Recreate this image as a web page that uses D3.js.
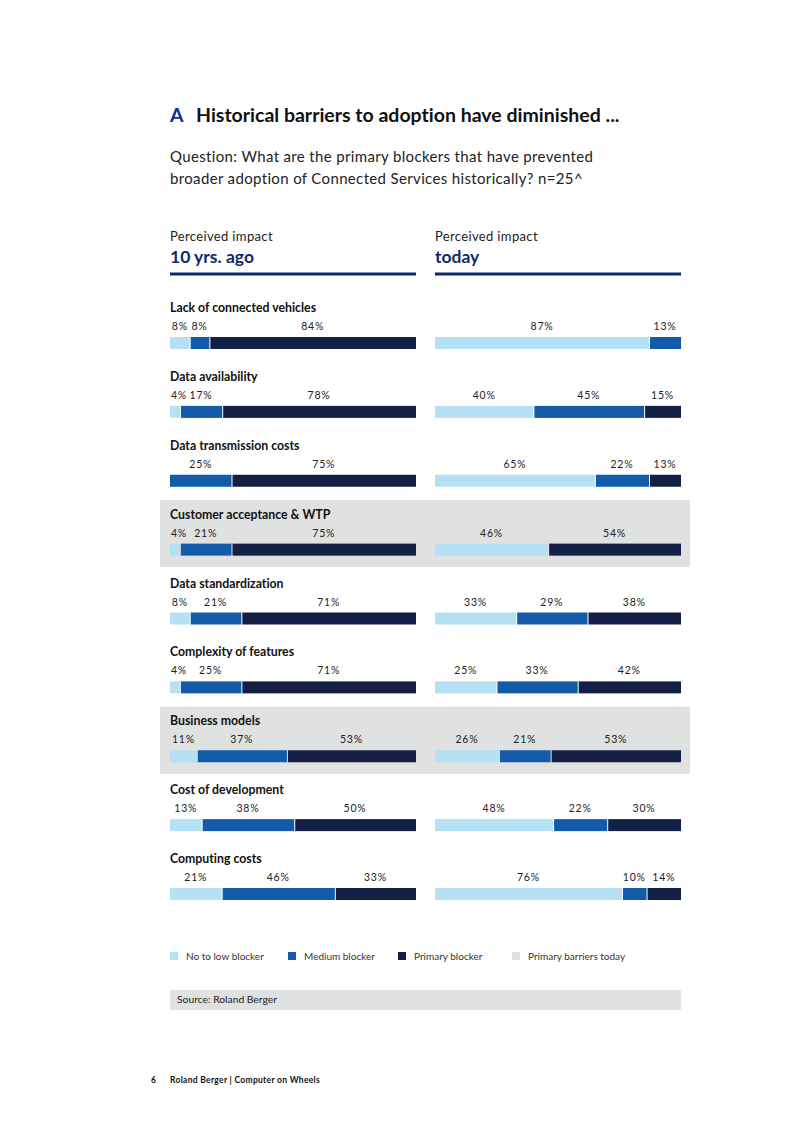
<!DOCTYPE html>
<html><head><meta charset="utf-8">
<script src="https://cdn.jsdelivr.net/npm/d3@7"></script>
<style>body{margin:0;background:#fff}svg{display:block}text{font-family:Lato,"Noto Sans",sans-serif;font-variant-ligatures:none;font-feature-settings:"liga" 0}</style>
</head><body><div id="chart"></div>
<script>
const categories = ["Lack of connected vehicles","Data availability","Data transmission costs","Customer acceptance & WTP","Data standardization","Complexity of features","Business models","Cost of development","Computing costs"];
const highlighted = ["Customer acceptance & WTP","Business models"];
const pastLow    = [8, 4, 0, 4, 8, 4, 11, 13, 21];
const pastMedium = [8, 17, 25, 21, 21, 25, 37, 38, 46];
const pastHigh   = [84, 78, 75, 75, 71, 71, 53, 50, 33];
const todayLow    = [87, 40, 65, 46, 33, 25, 26, 48, 76];
const todayMedium = [13, 45, 22, 0, 29, 33, 21, 22, 10];
const todayHigh   = [0, 15, 13, 54, 38, 42, 53, 30, 14];
const seriesNames = ["No to low blocker","Medium blocker","Primary blocker"];
const legendNames = ["No to low blocker","Medium blocker","Primary blocker","Primary barriers today"];
const colors = ["#b6e1f4","#135ba8","#131f45"];
const bandColor = "#e0e1e1";
const navy = "#0b2a6e";

const W=794,H=1123;
const svg=d3.select("#chart").append("svg").attr("width",W).attr("height",H);

// Title
const t=svg.append("text").attr("x",170).attr("y",122).attr("font-size",19.5).attr("font-weight",700);
t.append("tspan").attr("fill","#0c2d8a").text("A");
t.append("tspan").attr("x",196).attr("fill","#111").text("Historical barriers to adoption have diminished ...");
svg.append("text").attr("x",170).attr("y",162).attr("font-size",15).attr("letter-spacing",0.35).attr("fill","#222").text("Question: What are the primary blockers that have prevented");
svg.append("text").attr("x",170).attr("y",184).attr("font-size",15).attr("letter-spacing",0.35).attr("fill","#222").text("broader adoption of Connected Services historically? n=25^");

const panels=[{x0:170,x1:416,name:"10 yrs. ago",low:pastLow,med:pastMedium,high:pastHigh},
              {x0:435,x1:681,name:"today",low:todayLow,med:todayMedium,high:todayHigh}];

const rowY=d3.scaleLinear().domain([0,categories.length-1]).range([337,888]);

// bands
categories.forEach((c,i)=>{
  if(highlighted.includes(c)){
    svg.append("rect").attr("x",160).attr("y",rowY(i)-43.5).attr("width",530).attr("height",67).attr("fill",bandColor);
  }
});

panels.forEach(p=>{
  svg.append("text").attr("x",p.x0).attr("y",241).attr("font-size",13).attr("letter-spacing",0.35).attr("fill","#222").text("Perceived impact");
  svg.append("text").attr("x",p.x0).attr("y",263).attr("font-size",17.5).attr("font-weight",700).attr("fill",navy).text(p.name);
  svg.append("rect").attr("x",p.x0).attr("y",272.5).attr("width",p.x1-p.x0).attr("height",3).attr("fill",navy);
});

categories.forEach((c,i)=>{
  const y=rowY(i);
  svg.append("text").attr("x",170).attr("y",y-25).attr("font-size",12.3).attr("font-weight",700).attr("fill","#111").text(c);
  panels.forEach(p=>{
    const vals=[p.low[i],p.med[i],p.high[i]];
    const total=d3.sum(vals);
    const x=d3.scaleLinear().domain([0,total]).range([p.x0,p.x1]);
    let cum=0;
    const segs=vals.map((v,k)=>{const s={k,v,a:cum,b:cum+v};cum+=v;return s;}).filter(s=>s.v>0);
    const g=svg.append("g");
    g.selectAll("rect").data(segs).join("rect")
      .attr("x",s=>x(s.a)+(s.a>0?1:0)).attr("y",y)
      .attr("width",s=>x(s.b)-x(s.a)-(s.a>0?1:0)).attr("height",12)
      .attr("fill",s=>colors[s.k]);
    g.selectAll("text").data(segs).join("text")
      .attr("x",s=>{const cx=(x(s.a)+x(s.b))/2;const hw=9;return Math.min(Math.max(cx,p.x0+hw),p.x1-hw);})
      .attr("y",y-7).attr("text-anchor","middle").attr("font-size",10.5).attr("letter-spacing",0.8).attr("fill","#222")
      .text(s=>s.v+"%");
  });
});

// legend
const lx=[170,288,398,512];
const lcol=[...colors,bandColor];
legendNames.forEach((n,k)=>{
  svg.append("rect").attr("x",lx[k]).attr("y",952).attr("width",8).attr("height",8).attr("fill",lcol[k]);
  svg.append("text").attr("x",lx[k]+16).attr("y",960).attr("font-size",10).attr("fill","#333").text(n);
});

// source
svg.append("rect").attr("x",170).attr("y",990).attr("width",511).attr("height",20).attr("fill",bandColor);
svg.append("text").attr("x",177).attr("y",1003).attr("font-size",10.3).attr("fill","#222").text("Source: Roland Berger");

// footer
svg.append("text").attr("x",151).attr("y",1083).attr("font-size",8.5).attr("font-weight",700).attr("fill","#111").text("6");
svg.append("text").attr("x",170).attr("y",1083).attr("font-size",8.5).attr("letter-spacing",0.3).attr("font-weight",700).attr("fill","#111").text("Roland Berger | Computer on Wheels");
</script></body></html>
